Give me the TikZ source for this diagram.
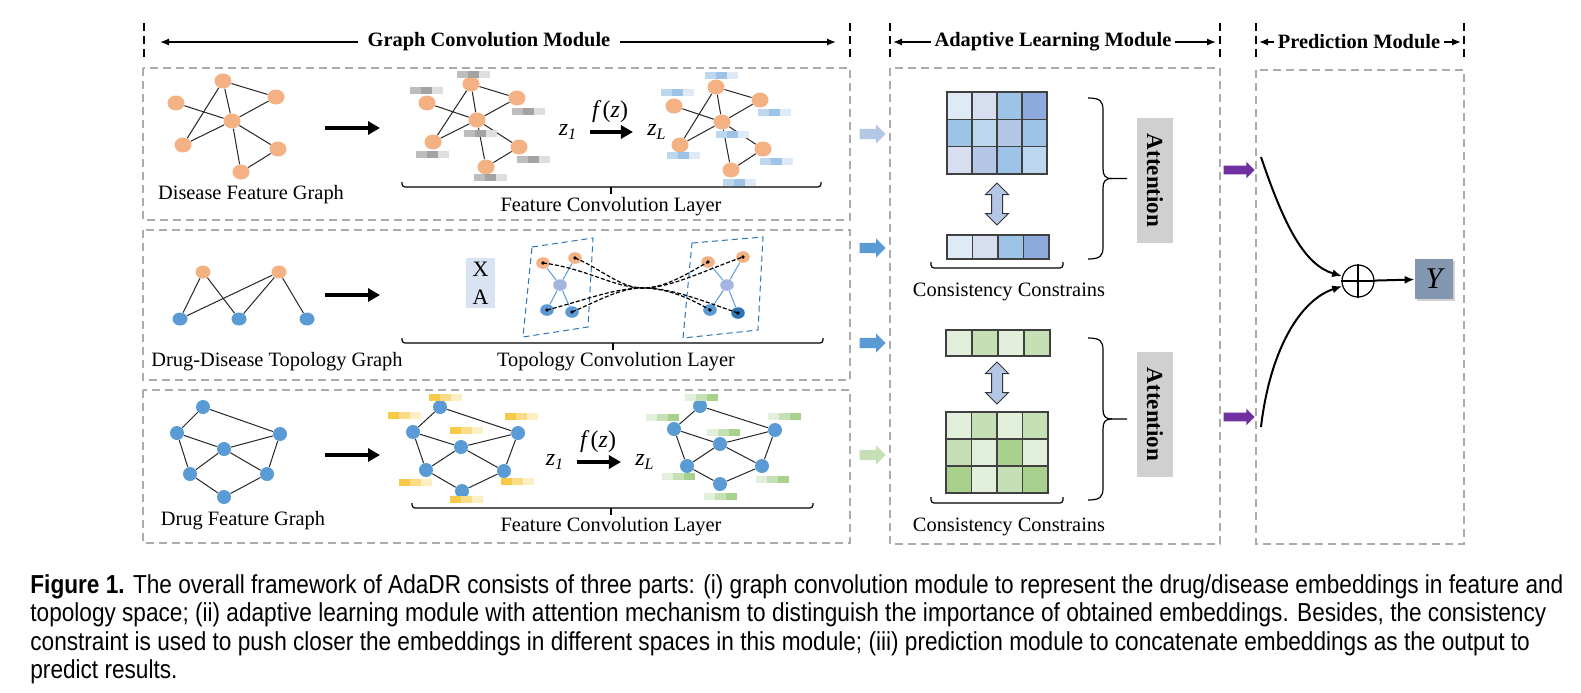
\documentclass[tikz,border=0pt]{standalone}
\usepackage{fontspec}
\setmainfont{Liberation Serif}
\newfontfamily\capfont[FakeStretch=0.87]{Liberation Sans}
\usepackage{tikz}
\usetikzlibrary{shapes, arrows.meta, shadows, calc}

\definecolor{peach}{HTML}{F4B183}
\definecolor{drugblue}{HTML}{5B9BD5}
\definecolor{darkblue}{HTML}{2E75B6}
\definecolor{midnode}{HTML}{A3B4E0}
\definecolor{xabox}{HTML}{DAE3F3}
\definecolor{gy1}{HTML}{BDBDBD}
\definecolor{gy2}{HTML}{A3A3A3}
\definecolor{gy3}{HTML}{DEDEDE}
\definecolor{bl1}{HTML}{BDD7EE}
\definecolor{bl2}{HTML}{9DC3E6}
\definecolor{bl3}{HTML}{DEEBF7}
\definecolor{ye1}{HTML}{F7C948}
\definecolor{ye2}{HTML}{FADB86}
\definecolor{ye3}{HTML}{FDEFC4}
\definecolor{cb1}{HTML}{DEEBF7}
\definecolor{cb2}{HTML}{D6DEF0}
\definecolor{cb3}{HTML}{BDD7EE}
\definecolor{cb4}{HTML}{9DC3E6}
\definecolor{cb5}{HTML}{8EA9DB}
\definecolor{cb6}{HTML}{B4C7E7}
\definecolor{cg1}{HTML}{E2EFDA}
\definecolor{cg2}{HTML}{C5E0B4}
\definecolor{cg3}{HTML}{A9D18E}
\definecolor{attgray}{HTML}{D0D0D0}
\definecolor{purp}{HTML}{7030A0}
\definecolor{yfill}{HTML}{8497B0}

\tikzset{
  modbox/.style={draw=gray!65, line width=0.75pt, dash pattern=on 4pt off 2.5pt},
  modtick/.style={draw=black, line width=1pt, dash pattern=on 4pt off 2.5pt},
  hdr/.style={font=\bfseries\fontsize{10.2}{12}\selectfont, inner sep=1.5pt},
  hdrarr/.style={line width=0.8pt, -{Latex[length=4.5pt,width=3.6pt]}},
  lbl/.style={font=\fontsize{10.2}{12}\selectfont, inner sep=1pt},
  onode/.style={ellipse, fill=peach, minimum width=8.5pt, minimum height=7.5pt, inner sep=0pt},
  bnode/.style={circle, fill=drugblue, minimum size=7pt, inner sep=0pt},
  tnode/.style={ellipse, minimum width=6.8pt, minimum height=5.8pt, inner sep=0pt},
  gedge/.style={line width=0.5pt, black!85},
  tedge/.style={line width=0.5pt, drugblue},
  tlink/.style={line width=0.6pt, dash pattern=on 2pt off 1pt, black},
  tquad/.style={draw=darkblue, line width=0.5pt, dash pattern=on 3pt off 2pt},
  bigarr/.style={line width=2pt, -{Triangle[length=6pt,width=6.5pt]}},
  brk/.style={line width=0.6pt},
  cell/.style={draw=black!75, line width=0.6pt},
  blockarr/.style={single arrow, minimum height=13pt, inner sep=2.4pt, single arrow head extend=2.2pt, draw=none},
  syncarr/.style={double arrow, rotate=90, fill=cb6, draw=black!80, line width=0.5pt, minimum height=21pt, inner sep=2.5pt, double arrow head extend=3pt},
  attn/.style={fill=attgray, rotate=-90, minimum width=62.5pt, minimum height=18pt, inner sep=0pt, font=\bfseries\fontsize{11.5}{12}\selectfont},
  predarr/.style={line width=1pt, -{Latex[length=5pt,width=4pt]}},
  ybox/.style={fill=yfill, minimum width=19pt, minimum height=20pt,
    drop shadow={shadow xshift=1.2pt, shadow yshift=-1.2pt, opacity=0.35},
    font=\itshape\fontsize{15}{15}\selectfont},
  zlab/.style={font=\itshape\fontsize{12}{12}\selectfont, inner sep=1pt}
}

% feature bar of three cells next to a node
\newcommand{\featbar}[6]{%
  \begin{scope}[shift={($(#1)+(#2,#3)$)}]
    \fill[#4] (-16.5,-3.5) rectangle (-5.5,3.5);
    \fill[#5] (-5.5,-3.5) rectangle (5.5,3.5);
    \fill[#6] (5.5,-3.5) rectangle (16.5,3.5);
  \end{scope}}
% one row of a matrix: x, y, cell width, cell height, colours
\newcommand{\cellrow}[5]{%
  \foreach \c [count=\i from 0] in {#5}
    \draw[cell, fill=\c] ({#1+\i*#3},#2) rectangle +(#3,#4);}
% brace under a layer: x1, x2, y, x of tick
\newcommand{\layerbrace}[4]{%
  \draw[brk, rounded corners=1.5pt] (#1,#3-5) |- (#2,#3) -- (#2,#3-5);
  \draw[brk] (#4,#3) -- (#4,#3+7);}
% brace before an attention box: top, middle, bottom
\newcommand{\attbrace}[3]{%
  \draw[brk] (1088,#1) .. controls (1100,#1) and (1103,#1+3) .. (1103,#1+12) -- (1103,#2-10)
    .. controls (1103,#2-3) and (1105,#2) .. (1112,#2) -- (1127,#2);
  \draw[brk] (1112,#2) .. controls (1105,#2) and (1103,#2+3) .. (1103,#2+10) -- (1103,#3-12)
    .. controls (1103,#3-3) and (1100,#3) .. (1088,#3);}

\begin{document}
\begin{tikzpicture}[x=0.5pt, y=-0.5pt]
  \fill[white] (0,0) rectangle (1581,692);
  \useasboundingbox (0,0) rectangle (1581,692);

  % module frames
  \draw[modbox] (143,68) rectangle (850,220);
  \draw[modbox] (143,230) rectangle (850,380);
  \draw[modbox] (143,390) rectangle (850,543);
  \draw[modbox] (890,68) rectangle (1220,544);
  \draw[modbox] (1256,70) rectangle (1464,544);

  % headers
  \foreach \x in {144,850,890,1220,1256,1464}
    \draw[modtick] (\x,23) -- (\x,61);
  \node[hdr] (gcm) at (489,42) {Graph Convolution Module};
  \coordinate (gcmL) at (160,42);
  \coordinate (gcmR) at (836,42);
  \draw[hdrarr, shorten <=3pt] (gcm.west) -- (gcmL);
  \draw[hdrarr, shorten <=3pt] (gcm.east) -- (gcmR);
  \node[hdr] (alm) at (1053,42) {Adaptive Learning Module};
  \coordinate (almL) at (893,42);
  \coordinate (almR) at (1216,42);
  \draw[hdrarr] (alm.west) -- (almL);
  \draw[hdrarr] (alm.east) -- (almR);
  \node[hdr] (pm) at (1359,42) {Prediction Module};
  \coordinate (pmL) at (1259,42);
  \coordinate (pmR) at (1461,42);
  \draw[hdrarr] (pm.west) -- (pmL);
  \draw[hdrarr] (pm.east) -- (pmR);

  % disease feature graphs
  \foreach \n/\x/\y in {1/223/81,2/176/103,3/276/97,4/232/121,5/183/145,6/278/149,7/241/172}
    \node[onode] (a\n) at (\x,\y) {};
  \foreach \n/\x/\y in {1/471/84,2/427/103,3/517/98,4/477/120,5/433/142,6/519/147,7/486/167}
    \node[onode] (b\n) at (\x,\y) {};
  \foreach \n/\x/\y in {1/716/87,2/674/106,3/760/100,4/722/122,5/680/145,6/763/149,7/731/170}
    \node[onode] (c\n) at (\x,\y) {};
  \foreach \g in {a,b,c}
    \foreach \s/\t in {1/3,1/4,1/5,2/4,3/4,4/5,4/6,4/7,6/7}
      \draw[gedge] (\g\s) -- (\g\t);
  \foreach \n/\ox/\oy in {1/2/-10,2/-1/-13,3/11/13,4/3/13,5/-1/12,6/14/12,7/4/10}
    \featbar{b\n}{\ox}{\oy}{gy1}{gy2}{gy3};
  \foreach \n/\ox/\oy in {1/5/-12,2/3/-14,3/14/12,4/10/12,5/3/10,6/13/12,7/8/12}
    \featbar{c\n}{\ox}{\oy}{bl1}{bl2}{bl3};
  \coordinate (r1s) at (325,128);
  \coordinate (r1e) at (380,128);
  \draw[bigarr] (r1s) -- (r1e);
  \node[zlab] (z1a) at (568,132) {z\textsubscript{1}};
  \node[zlab] (zLa) at (657,132) {z\textsubscript{L}};
  \node[zlab] (fza) at (610,112) {f\,\textup{(}z\textup{)}};
  \draw[bigarr, shorten <=5pt, shorten >=6pt] (z1a) -- (zLa);
  \node[lbl] (dfg) at (251,195) {Disease Feature Graph};
  \layerbrace{402}{821}{187}{611}
  \node[lbl] (fcl1) at (611,207) {Feature Convolution Layer};

  % drug-disease topology graph
  \foreach \n/\x/\y in {1/203/272,2/279/272}
    \node[tnode, fill=peach, minimum width=7.5pt, minimum height=6.5pt] (t\n) at (\x,\y) {};
  \foreach \n/\x/\y in {3/180/319,4/239/319,5/307/319}
    \node[tnode, fill=drugblue, minimum width=7.5pt, minimum height=6.5pt] (t\n) at (\x,\y) {};
  \foreach \s/\t in {1/3,1/4,2/3,2/4,2/5}
    \draw[gedge] (t\s) -- (t\t);
  \coordinate (r2s) at (325,295);
  \coordinate (r2e) at (380,295);
  \draw[bigarr] (r2s) -- (r2e);
  \node[fill=xabox, minimum width=14.5pt, minimum height=25pt, inner sep=0pt, align=center,
        font=\fontsize{11}{14}\selectfont] (xa) at (480.5,283) {X\\A};
  \draw[tquad] (532,247) -- (593,238) -- (588,327) -- (523,337) -- cycle;
  \draw[tquad] (692,243) -- (763,237) -- (758,330) -- (683,338) -- cycle;
  \node[tnode, fill=peach] (L1) at (543,263) {};
  \node[tnode, fill=peach] (L2) at (575,258) {};
  \node[tnode, fill=midnode] (Lm) at (560,285) {};
  \node[tnode, fill=drugblue] (L3) at (547,310) {};
  \node[tnode, fill=drugblue] (L4) at (572,312) {};
  \node[tnode, fill=peach] (R1) at (708,262) {};
  \node[tnode, fill=peach] (R2) at (743,257) {};
  \node[tnode, fill=midnode] (Rm) at (727,285) {};
  \node[tnode, fill=drugblue] (R3) at (710,310) {};
  \node[tnode, fill=darkblue] (R4) at (738,313) {};
  \foreach \g in {L,R}
    \foreach \s/\t in {1/m,2/m,m/3,m/4}
      \draw[tedge] (\g\s) -- (\g\t);
  \coordinate (cross) at (643,288);
  \draw[tlink] (L1.center) .. controls (585,268) and (615,288) .. (cross)
    .. controls (671,288) and (700,300) .. (R4.center);
  \draw[tlink] (L2.center) .. controls (600,268) and (620,288) .. (cross)
    .. controls (666,288) and (690,298) .. (R3.center);
  \draw[tlink] (L3.center) .. controls (585,300) and (615,288) .. (cross)
    .. controls (671,288) and (705,270) .. (R2.center);
  \draw[tlink] (L4.center) .. controls (600,300) and (620,288) .. (cross)
    .. controls (666,288) and (690,272) .. (R1.center);
  \foreach \p in {L1,L2,L3,L4,R1,R2,R3,R4}
    \fill (\p) circle (0.9pt);
  \node[lbl] (ddtg) at (277,362) {Drug-Disease Topology Graph};
  \layerbrace{402}{823}{343}{613}
  \node[lbl] (tcl) at (616,362) {Topology Convolution Layer};

  % drug feature graphs
  \foreach \n/\x/\y in {1/203/407,2/177/433,3/280/434,4/224/449,5/190/474,6/267/474,7/224/497}
    \node[bnode] (d\n) at (\x,\y) {};
  \foreach \n/\x/\y in {1/440/407,2/413/432,3/518/433,4/461/447,5/426/470,6/504/471,7/462/491}
    \node[bnode] (e\n) at (\x,\y) {};
  \foreach \n/\x/\y in {1/700/406,2/674/429,3/775/430,4/720/444,5/687/466,6/762/466,7/720/484}
    \node[bnode] (f\n) at (\x,\y) {};
  \foreach \g in {d,e,f}
    \foreach \s/\t in {1/2,1/3,2/4,2/5,3/4,3/6,4/5,4/6,5/7,6/7}
      \draw[gedge] (\g\s) -- (\g\t);
  \foreach \n/\ox/\oy in {1/5/-10,2/-9/-17,3/3/-17,4/5/-17,5/-11/12,6/13/10,7/4/8}
    \featbar{e\n}{\ox}{\oy}{ye1}{ye2}{ye3};
  \foreach \n/\ox/\oy in {1/1/-9,2/-12/-12,3/9/-14,4/3/-12,5/-9/10,6/10/13,7/0/12}
    \featbar{f\n}{\ox}{\oy}{cg1}{cg2}{cg3};
  \coordinate (r3s) at (325,455);
  \coordinate (r3e) at (380,455);
  \draw[bigarr] (r3s) -- (r3e);
  \node[zlab] (z1b) at (555,462) {z\textsubscript{1}};
  \node[zlab] (zLb) at (645,462) {z\textsubscript{L}};
  \node[zlab] (fzb) at (598,442) {f\,\textup{(}z\textup{)}};
  \draw[bigarr, shorten <=5pt, shorten >=6pt] (z1b) -- (zLb);
  \node[lbl] (dgfg) at (243,521) {Drug Feature Graph};
  \layerbrace{412}{813}{508}{611}
  \node[lbl] (fcl2) at (611,527) {Feature Convolution Layer};

  % arrows into the adaptive learning module
  \node[blockarr, fill=cb6] (in1) at (870,134) {};
  \node[blockarr, fill=drugblue] (in2) at (870,248) {};
  \node[blockarr, fill=drugblue] (in3) at (870,343) {};
  \node[blockarr, fill=cg2] (in4) at (870,455) {};

  % disease side of the adaptive learning module
  \cellrow{947}{92}{25}{27.3}{cb1,cb2,cb4,cb5}
  \cellrow{947}{119.3}{25}{27.3}{cb4,cb3,cb6,cb4}
  \cellrow{947}{146.6}{25}{27.3}{cb2,cb6,cb4,cb3}
  \node[syncarr] (sync1) at (997,204) {};
  \cellrow{947}{235}{25.5}{24}{cb1,cb2,cb4,cb5}
  \draw[brk, rounded corners=1.5pt] (931,262) |- (1063,268) -- (1063,262);
  \node[lbl] (cc1) at (1009,292) {Consistency Constrains};
  \attbrace{98}{178.5}{259}
  \node[attn] (att1) at (1155,180.5) {Attention};

  % drug side of the adaptive learning module
  \cellrow{946}{330}{26}{26}{cg1,cg2,cg1,cg2}
  \node[syncarr] (sync2) at (997,383) {};
  \cellrow{946}{412}{25.5}{27}{cg1,cg2,cg1,cg2}
  \cellrow{946}{439}{25.5}{27}{cg2,cg1,cg3,cg1}
  \cellrow{946}{466}{25.5}{27}{cg3,cg1,cg2,cg3}
  \draw[brk, rounded corners=1.5pt] (931,497) |- (1063,503) -- (1063,497);
  \node[lbl] (cc2) at (1009,527) {Consistency Constrains};
  \attbrace{338}{419}{500}
  \node[attn] (att2) at (1155,414.5) {Attention};

  % prediction module
  \node[blockarr, fill=purp, minimum height=15.5pt, inner sep=2pt, single arrow head extend=2pt] (pa1) at (1237,170) {};
  \node[blockarr, fill=purp, minimum height=15.5pt, inner sep=2pt, single arrow head extend=2pt] (pa2) at (1237,417) {};
  \coordinate (emb1) at (1261,157);
  \coordinate (emb2) at (1261,427);
  \node[circle, draw, line width=0.6pt, minimum size=16pt, inner sep=0pt] (plus) at (1358,281) {};
  \draw[line width=0.6pt] (plus.north) -- (plus.south) (plus.west) -- (plus.east);
  \draw[predarr] (emb1) .. controls (1285,228) and (1305,265) .. (plus);
  \draw[predarr] (emb2) .. controls (1270,350) and (1300,300) .. (plus);
  \node[ybox] (yout) at (1434,279) {Y};
  \draw[predarr] (plus) -- (yout);

  % caption
  \node[anchor=north west, align=left, inner sep=0pt,
        font=\capfont\fontsize{13}{14.2}\selectfont] (cap) at (30,574)
    {\textbf{Figure 1.} The overall framework of AdaDR consists of three parts: (i) graph convolution module to represent the drug/disease embeddings in feature and\\
     topology space; (ii) adaptive learning module with attention mechanism to distinguish the importance of obtained embeddings. Besides, the consistency\\
     constraint is used to push closer the embeddings in different spaces in this module; (iii) prediction module to concatenate embeddings as the output to\\
     predict results.};
\end{tikzpicture}
\end{document}
